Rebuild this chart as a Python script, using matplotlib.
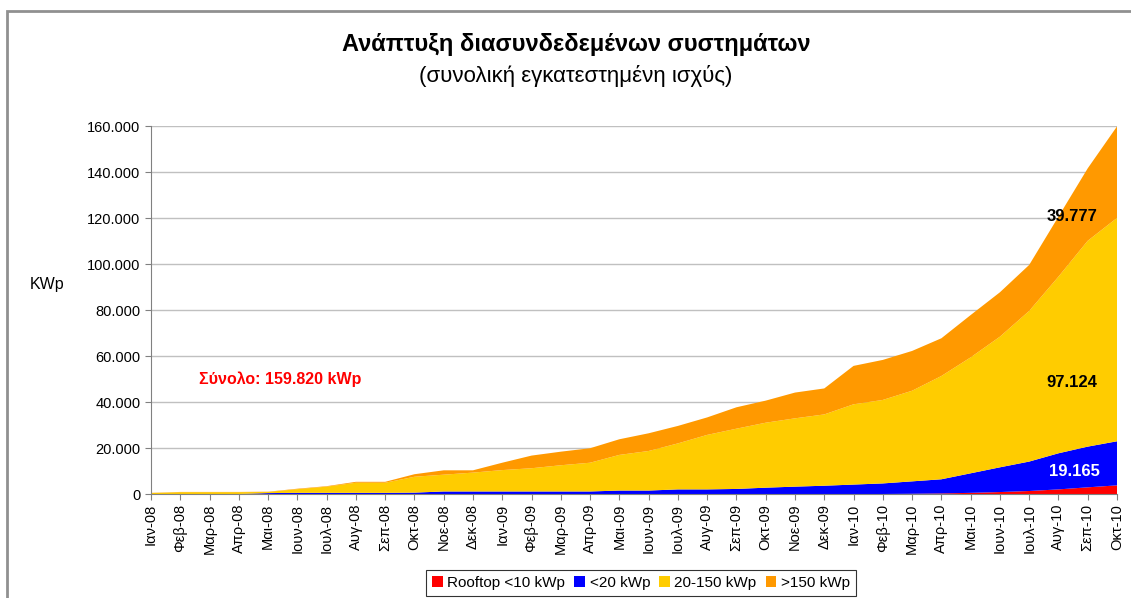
import matplotlib
matplotlib.use("Agg")
import matplotlib.pyplot as plt
from matplotlib.patches import Rectangle
from matplotlib.ticker import FuncFormatter, MultipleLocator

plt.rcParams['font.family'] = ['Liberation Sans', 'DejaVu Sans']

months = ['Ιαν', 'Φεβ', 'Μαρ', 'Απρ', 'Μαι', 'Ιουν', 'Ιουλ', 'Αυγ', 'Σεπ', 'Οκτ', 'Νοε', 'Δεκ']
labels = [f'{m}-{y}' for y in ['08', '09', '10'] for m in months][:34]

# installed power per category (kWp), Jan-08 .. Oct-10
rooftop = [0] * 26 + [100, 250, 500, 850, 1300, 2000, 2900, 3754]
small = [0, 0, 0, 0, 400, 500, 500, 500, 500, 600, 1100, 1100, 1100, 1100, 1100, 1100,
         1500, 1500, 2000, 2000, 2200, 2750, 3200, 3600, 4100, 4600, 5400, 6150, 8500,
         10750, 12800, 15700, 17700, 19165]
medium = [400, 800, 800, 800, 500, 1600, 2700, 4400, 4400, 6900, 7300, 8200, 9300, 10100,
          11400, 12500, 15500, 17200, 20000, 23700, 26200, 28250, 29700, 31000, 34900,
          36300, 39400, 44900, 50400, 56800, 65500, 76800, 89500, 97124]
large = [100, 100, 100, 100, 100, 200, 200, 400, 400, 1100, 1900, 1000, 3200, 5500, 5900,
         6300, 6800, 7700, 7600, 7600, 9300, 9600, 11200, 11300, 16700, 17400, 17300,
         16400, 18400, 19300, 20000, 26100, 31500, 39777]
series_names = ['Rooftop <10 kWp', '<20 kWp', '20-150 kWp', '>150 kWp']
colors = ['#FF0000', '#0000FF', '#FFCC00', '#FF9900']

W, H = 1131, 598
fig = plt.figure(figsize=(W / 100, H / 100), dpi=100)
ax = fig.add_axes([151 / W, 1 - 494 / H, (1117 - 151) / W, (494 - 126) / H])

x = list(range(len(labels)))
ax.stackplot(x, rooftop, small, medium, large, colors=colors, labels=series_names, linewidth=0)

ax.set_xlim(0, len(labels) - 1)
ax.set_ylim(0, 160000)
ax.yaxis.set_major_locator(MultipleLocator(20000))
ax.yaxis.set_major_formatter(FuncFormatter(lambda v, p: f'{int(v):,}'.replace(',', '.')))
ax.grid(axis='y', color='#c0c0c0', lw=1)
ax.set_axisbelow(True)
ax.set_xticks(x)
ax.set_xticklabels(labels, rotation=90, fontsize=10.5)
ax.tick_params(axis='y', labelsize=10.5, length=4, color='#808080')
ax.tick_params(axis='x', length=4, color='#808080', pad=3)
for s in ['top', 'right']:
    ax.spines[s].set_visible(False)
for s in ['left', 'bottom']:
    ax.spines[s].set_color('#808080')

# value labels for last month
last = len(labels) - 1
ax.text(31.45, 120600, f'{large[last]:,}'.replace(',', '.'), fontsize=12, fontweight='bold', ha='center', va='center')
ax.text(31.45, 48300, f'{medium[last]:,}'.replace(',', '.'), fontsize=12, fontweight='bold', ha='center', va='center')
ax.text(31.55, 9600, f'{small[last]:,}'.replace(',', '.'), fontsize=12, fontweight='bold', ha='center', va='center', color='white')
total = rooftop[last] + small[last] + medium[last] + large[last]
fig.text(199 / W, 1 - 379 / H, f'Σύνολο: {total:,} kWp'.replace(',', '.'), fontsize=11.5,
         fontweight='bold', color='#FF0000', va='center')

fig.text(47 / W, 1 - 284 / H, 'KWp', fontsize=11.5, ha='center', va='center')
fig.text(576 / W, 1 - 45 / H, 'Ανάπτυξη διασυνδεδεμένων συστημάτων', fontsize=17,
         fontweight='bold', ha='center', va='center')
fig.text(576 / W, 1 - 76 / H, '(συνολική εγκατεστημένη ισχύς)', fontsize=16,
         ha='center', va='center')

leg = fig.legend(loc='upper center', bbox_to_anchor=(641 / W, 1 - 562 / H), ncol=4,
                 fontsize=11, frameon=True, fancybox=False, edgecolor='#000000',
                 handlelength=0.7, handleheight=0.7, handletextpad=0.3, columnspacing=0.6,
                 borderpad=0.4)
leg.get_frame().set_linewidth(0.8)

# outer chart frame (cut at right and bottom)
fig.patches.append(Rectangle((7 / W, -0.1), 1.2, 1 - 11 / H + 0.1, transform=fig.transFigure,
                             fill=False, edgecolor='#909090', lw=2))

fig.savefig('out.png', dpi=100)
